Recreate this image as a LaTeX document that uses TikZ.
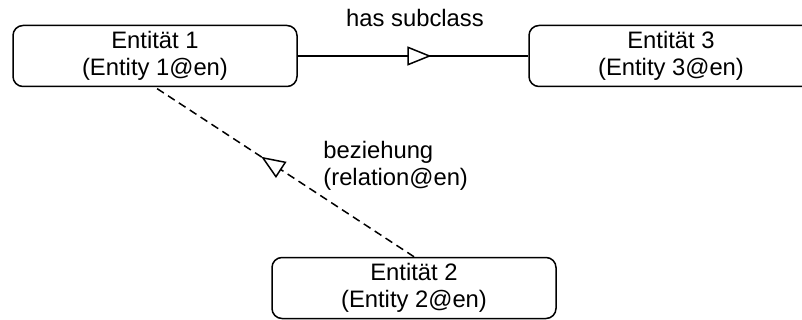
\documentclass[tikz,border=0pt]{standalone}
\usepackage{fontspec}
\setmainfont{Liberation Sans}
\usetikzlibrary{arrows.meta, positioning, decorations.markings}

\begin{document}
\begin{tikzpicture}[x=0.5pt, y=-0.5pt,
        every node/.style={font=\fontsize{11.9}{13.3}\selectfont},
        entity/.style={draw, line width=0.75pt, rounded corners=5pt, minimum width=142pt, minimum height=30.5pt, align=center, inner sep=0pt},
        midtri/.style={postaction={decorate}, decoration={markings, mark=at position #1 with {\arrow{Triangle[length=12pt, width=9.5pt, fill=white]}}}}]
        \useasboundingbox (0,0) rectangle (802,320);
        % entities
        \node[entity] (ent1) at (155,56) {Entität 1\\(Entity 1@en)};
        \node[entity] (ent3) at (671,56) {Entität 3\\(Entity 3@en)};
        \node[entity] (ent2) at (414,288) {Entität 2\\(Entity 2@en)};
        % subclass and relation
        \draw[line width=0.75pt, midtri=0.58] (ent1) -- (ent3);
        \node[anchor=base] (hassub) at (415,27) {has subclass};
        \draw[line width=0.75pt, dash pattern=on 4pt off 2.5pt, midtri=0.59] (ent2.north) -- (ent1.south);
        \node[anchor=west, align=left, inner sep=0pt] (rel) at (323,166) {beziehung\\(relation@en)};
    \end{tikzpicture}
\end{document}
